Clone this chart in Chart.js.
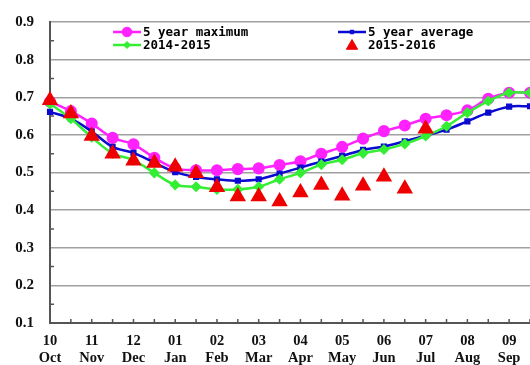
<!DOCTYPE html>
<html>
<head>
<meta charset="utf-8">
<script src="https://cdn.jsdelivr.net/npm/chart.js@4/dist/chart.umd.min.js"></script>
<style>
  html, body { margin: 0; padding: 0; background: #ffffff; }
  #wrap { position: relative; width: 530px; height: 365px; }
</style>
</head>
<body>
<div id="wrap"><canvas id="c" width="530" height="365"></canvas></div>
<script>
// ---- data ----
const monthNumbers = ["10","11","12","01","02","03","04","05","06","07","08","09"];
const monthNames   = ["Oct","Nov","Dec","Jan","Feb","Mar","Apr","May","Jun","Jul","Aug","Sep"];
// 24 half-month positions, Oct through Sep
const fiveYearMax = [0.688,0.663,0.630,0.592,0.575,0.539,0.511,0.506,0.506,0.509,0.511,0.520,0.530,0.550,0.568,0.590,0.610,0.625,0.643,0.652,0.665,0.696,0.712,0.712];
const fiveYearAvg = [0.661,0.643,0.609,0.568,0.552,0.526,0.501,0.488,0.482,0.478,0.482,0.497,0.513,0.529,0.544,0.560,0.569,0.583,0.598,0.614,0.636,0.659,0.675,0.676];
const season1415  = [0.683,0.643,0.594,0.551,0.533,0.499,0.467,0.462,0.455,0.455,0.462,0.482,0.499,0.521,0.534,0.551,0.561,0.576,0.597,0.623,0.659,0.690,0.712,0.712];
const season1516  = [0.692,0.657,0.597,0.550,0.531,0.525,0.515,0.498,0.461,0.436,0.436,0.423,0.447,0.467,0.438,0.465,0.489,0.457,0.616,null,null,null,null,null];
const seriesNames = ["5 year maximum","5 year average","2014-2015","2015-2016"];
const yTicks = [0.1,0.2,0.3,0.4,0.5,0.6,0.7,0.8,0.9];

// build 24 category labels (label only on whole months)
const labels = [];
for (let i = 0; i < 24; i++) {
  labels.push(i % 2 === 0 ? [monthNumbers[i/2], monthNames[i/2]] : "");
}

const MAG = "#ff22ff", BLU = "#0a0ad0", GRN = "#33ee33", RED = "#ee0000";

const legendItems = [
  { text: seriesNames[0], color: MAG, style: "circle", r: 4.8, line: true, x: 113, y: 32 },
  { text: seriesNames[1], color: BLU, style: "rect",   r: 2.5, line: true, x: 338, y: 32 },
  { text: seriesNames[2], color: GRN, style: "rectRot", r: 3.5, line: true, x: 113, y: 45 },
  { text: seriesNames[3], color: RED, style: "triangle", r: 6.5, line: false, x: 338, y: 46 }
];

const decorPlugin = {
  id: "decor",
  afterDraw(chart) {
    const ctx = chart.ctx;
    const xs = chart.scales.x, ys = chart.scales.y;
    // inward minor ticks
    ctx.save();
    ctx.strokeStyle = "#555";
    ctx.lineWidth = 1.5;
    ctx.beginPath();
    for (let i = 1; i < labels.length; i++) {
      const px = xs.getPixelForValue(i);
      ctx.moveTo(px, ys.bottom);
      ctx.lineTo(px, ys.bottom - 4);
    }
    for (let k = 0; k < yTicks.length - 1; k++) {
      const py = ys.getPixelForValue((yTicks[k] + yTicks[k + 1]) / 2);
      ctx.moveTo(xs.left, py);
      ctx.lineTo(xs.left + 4, py);
    }
    ctx.stroke();
    // legend
    ctx.textBaseline = "middle";
    ctx.textAlign = "left";
    legendItems.forEach(it => {
      ctx.strokeStyle = it.color;
      ctx.fillStyle = it.color;
      if (it.line) {
        ctx.lineWidth = 2.5;
        ctx.beginPath();
        ctx.moveTo(it.x, it.y);
        ctx.lineTo(it.x + 28, it.y);
        ctx.stroke();
      }
      ctx.lineWidth = 1;
      Chart.helpers.drawPoint(ctx, { pointStyle: it.style, radius: it.r, borderWidth: 1 }, it.x + 14, it.y);
      ctx.fillStyle = "#000";
      ctx.font = "bold 12.5px 'DejaVu Sans Mono', monospace";
      ctx.fillText(it.text, it.x + 30, (it.line ? it.y : it.y - 1) + 0.5);
    });
    ctx.restore();
  }
};

const mkLine = (label, data, color, style, r) => ({
  label, data,
  borderColor: color, backgroundColor: color,
  borderWidth: 2.5,
  pointStyle: style, pointRadius: r,
  pointBorderColor: color, pointBackgroundColor: color,
  tension: 0.35,
  fill: false
});

const chart = new Chart(document.getElementById("c"), {
  type: "line",
  data: {
    labels,
    datasets: [
      Object.assign(mkLine(seriesNames[3], season1516, RED, "triangle", 7), { showLine: false }),
      mkLine(seriesNames[2], season1415, GRN, "rectRot", 3.8),
      mkLine(seriesNames[1], fiveYearAvg, BLU, "rect", 2.6),
      mkLine(seriesNames[0], fiveYearMax, MAG, "circle", 4.8)
    ]
  },
  options: {
    responsive: false,
    animation: false,
    devicePixelRatio: 1,
    layout: { autoPadding: false, padding: { top: 22, right: 0, left: 0, bottom: 0 } },
    plugins: { legend: { display: false }, tooltip: { enabled: false } },
    scales: {
      x: {
        offset: false,
        grid: { display: false, drawTicks: false },
        border: { display: true, color: "#555", width: 2 },
        ticks: {
          autoSkip: false, maxRotation: 0, minRotation: 0,
          padding: 10,
          color: "#111",
          font: { family: "'Liberation Serif', 'Times New Roman', serif", size: 14.5, weight: "bold", lineHeight: 1.15 }
        },
        afterFit(s) { s.height = 42; s.paddingLeft = 0; s.paddingRight = 0; }
      },
      y: {
        min: yTicks[0], max: yTicks[yTicks.length - 1],
        afterBuildTicks(s) { s.ticks = yTicks.map(v => ({ value: v })); },
        grid: { color: "#a0a0a0", lineWidth: 1.5, drawTicks: false },
        border: { display: true, color: "#555", width: 2 },
        ticks: {
          padding: 16,
          color: "#111",
          callback: v => v.toFixed(1),
          font: { family: "'Liberation Serif', 'Times New Roman', serif", size: 15, weight: "bold" }
        },
        afterFit(s) { s.width = 50; s.paddingTop = 0; s.paddingBottom = 0; }
      }
    }
  },
  plugins: [decorPlugin]
});
</script>
</body>
</html>
